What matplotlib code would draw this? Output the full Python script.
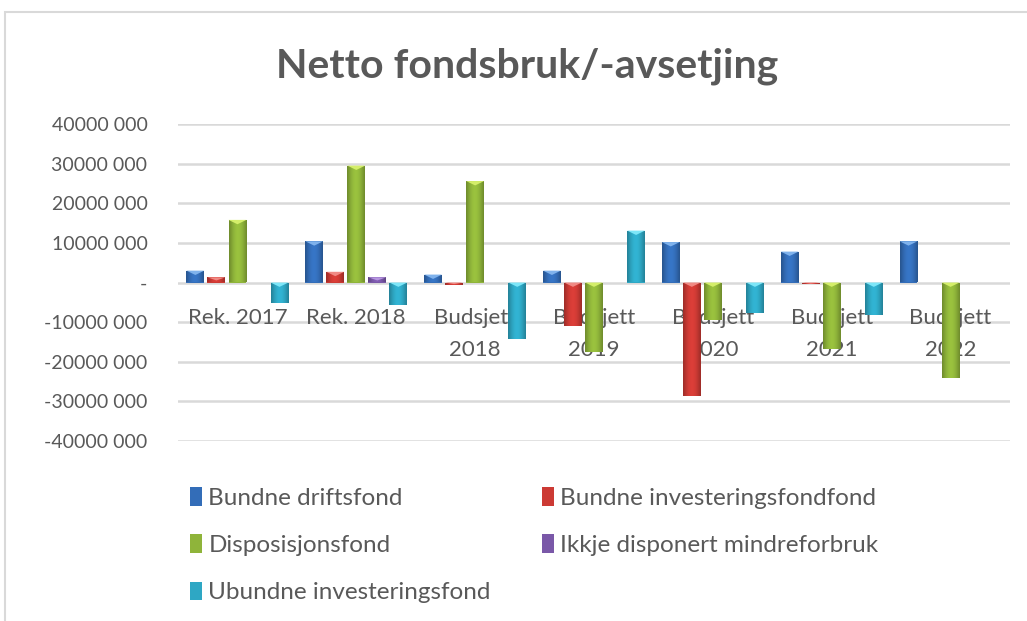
import numpy as np
import matplotlib
matplotlib.use("Agg")
import matplotlib.pyplot as plt
from matplotlib.patches import Rectangle, Polygon
from matplotlib.colors import to_rgb

plt.rcParams["font.family"] = ["Lato", "DejaVu Sans"]

# data (NOK)
categories = ["Rek. 2017", "Rek. 2018", "Budsjett\n2018", "Budsjett\n2019",
              "Budsjett\n2020", "Budsjett\n2021", "Budsjett\n2022"]
series_names = ["Bundne driftsfond", "Bundne investeringsfondfond",
                "Disposisjonsfond", "Ikkje disponert mindreforbruk",
                "Ubundne investeringsfond"]
bundne_drift = [3.0e6, 10.4e6, 2.0e6, 3.0e6, 10.2e6, 7.8e6, 10.4e6]
bundne_invest = [1.3e6, 2.7e6, -0.7e6, -11.1e6, -28.6e6, -0.5e6, 0]
disposisjon = [15.8e6, 29.5e6, 25.6e6, -17.6e6, -9.4e6, -16.8e6, -24.1e6]
mindreforbruk = [0, 1.3e6, 0, 0, 0, 0, 0]
ubundne_invest = [-5.2e6, -5.6e6, -14.2e6, 13.1e6, -7.6e6, -8.2e6, 0]
values = [bundne_drift, bundne_invest, disposisjon, mindreforbruk, ubundne_invest]

yticks = [40e6, 30e6, 20e6, 10e6, 0, -10e6, -20e6, -30e6, -40e6]
ytick_labels = ["40000 000", "30000 000", "20000 000", "10000 000", "-",
                "-10000 000", "-20000 000", "-30000 000", "-40000 000"]

colors = ["#336DB8", "#CC3A34", "#8FB43A", "#7A58A8", "#2EA7C4"]
tops = ["#7FB2EC", "#F08A84", "#D4EE6A", "#B796E0", "#7DE6F8"]


def shade(c, f):
    r, g, b = to_rgb(c)
    return np.clip([r * f, g * f, b * f], 0, 1)


fig = plt.figure(figsize=(10.27, 6.21), dpi=100)
fig.patches.append(Rectangle((5 / 1027, -0.1), 1.2, (621 - 12) / 621 + 0.1,
                             transform=fig.transFigure, fill=False,
                             edgecolor="#D9D9D9", linewidth=1.5))

ax = fig.add_axes([178 / 1027, 180 / 621, 832 / 1027, 317 / 621])
x = np.arange(len(categories))
slot = 0.177
width = 0.15
handles = []
for i, (name, vals) in enumerate(zip(series_names, values)):
    bars = ax.bar(x + (i - 2) * slot, vals, width, color=colors[i],
                  linewidth=0, label=name, zorder=2)
    handles.append(bars)
    # bevel look: dark sides, light centre, light triangle on the upper end
    profile = 0.78 + 0.3 * np.sin(np.linspace(0, np.pi, 24))
    grad = np.array([[shade(colors[i], f) for f in profile]])
    for p in bars.patches:
        h = p.get_height()
        if h == 0:
            continue
        x0, y0 = p.get_x(), p.get_y()
        x1 = x0 + p.get_width()
        ylo, yhi = min(y0, y0 + h), max(y0, y0 + h)
        im = ax.imshow(grad, extent=[x0, x1, ylo, yhi], aspect="auto",
                       zorder=2.1, interpolation="bilinear")
        im.set_clip_path(p)
        d = min(1.1e6, (yhi - ylo) * 0.6)
        ax.add_patch(Polygon([[x0, yhi], [x1, yhi], [(x0 + x1) / 2, yhi - d]],
                             closed=True, facecolor=tops[i], linewidth=0,
                             zorder=2.2))

for v in yticks:
    ax.axhline(v, color="#D9D9D9", linewidth=1.8, zorder=0)

ax.set_xlim(-0.5, len(categories) - 0.5)
ax.set_ylim(-40e6, 40e6)
ax.set_yticks(yticks)
ax.set_yticklabels(ytick_labels)
ax.set_xticks(x)
ax.set_xticklabels(categories)

for s in ["top", "right", "left"]:
    ax.spines[s].set_visible(False)
ax.spines["bottom"].set_position(("data", 0))
ax.spines["bottom"].set_visible(False)
ax.tick_params(axis="both", length=0, colors="#595959", labelsize=14)
ax.tick_params(axis="x", pad=18, labelsize=16)
ax.tick_params(axis="y", pad=22)
ax.set_facecolor("none")
for t in ax.get_xticklabels():
    t.set_linespacing(1.75)

fig.text(527 / 1027, 1 - 66 / 621, "Netto fondsbruk/-avsetjing", ha="center",
         va="center", fontsize=29.5, fontweight="bold", color="#595959")

# legend filled row by row like the original
order = [0, 2, 4, 1, 3]
ax.legend([handles[k] for k in order], [series_names[k] for k in order],
          loc="upper left", bbox_to_anchor=(0.003, -0.115), ncol=2,
          frameon=False, fontsize=17.5, labelcolor="#595959",
          handlelength=0.5, handleheight=0.8, handletextpad=0.25,
          columnspacing=2.1, labelspacing=1.05, borderaxespad=0)

fig.savefig("out.png", dpi=100)
